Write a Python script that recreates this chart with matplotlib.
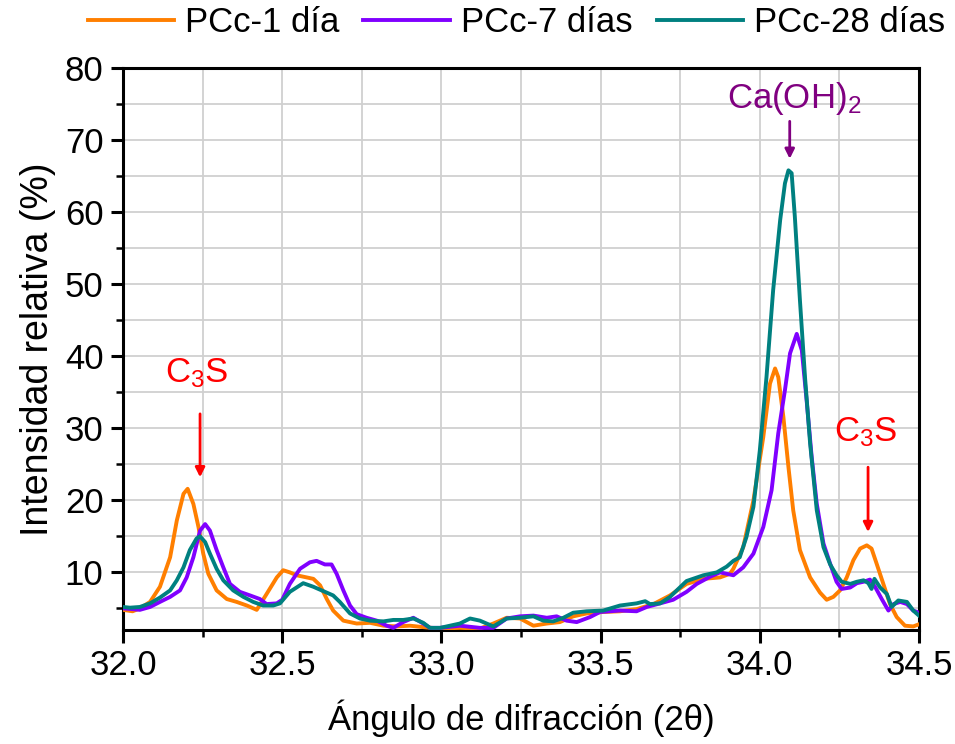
""" XRD detail of the PCc paste at 1, 7 and 28 days,
    2-theta window 32.0 - 34.5 with C3S and Ca(OH)2 peaks marked.
"""

###########
# Imports #
###########
import numpy as np
import matplotlib
matplotlib.use('Agg')
import matplotlib.pyplot as plt
from matplotlib.ticker import MultipleLocator, FormatStrFormatter


########
# Data #
########
# PCc-1 dia
x_1d = [32.000, 32.030, 32.053, 32.085, 32.116, 32.148, 32.169, 32.190, 32.203,
        32.221, 32.237, 32.252, 32.268, 32.294, 32.326, 32.357, 32.389, 32.420,
        32.451, 32.483, 32.503, 32.524, 32.545, 32.577, 32.598, 32.619, 32.640,
        32.660, 32.692, 32.734, 32.776, 32.818, 32.860, 32.901, 32.943, 32.996,
        33.058, 33.121, 33.163, 33.205, 33.247, 33.289, 33.331, 33.372, 33.414,
        33.456, 33.508, 33.561, 33.613, 33.666, 33.718, 33.770, 33.823, 33.875,
        33.906, 33.917, 33.948, 33.980, 34.011, 34.032, 34.048, 34.058, 34.074,
        34.090, 34.105, 34.126, 34.158, 34.189, 34.210, 34.231, 34.252, 34.273,
        34.294, 34.315, 34.336, 34.351, 34.367, 34.388, 34.409, 34.430, 34.456,
        34.482, 34.500]
y_1d = [4.8, 4.6, 5.0, 5.9, 8.0, 12.1, 17.2, 20.9, 21.6,
        19.5, 16.3, 12.6, 9.8, 7.5, 6.3, 5.9, 5.4, 4.8,
        7.0, 9.3, 10.3, 10.0, 9.6, 9.3, 9.1, 8.2, 6.3,
        4.7, 3.3, 2.9, 3.0, 2.6, 2.5, 2.6, 2.4, 2.2,
        2.3, 2.2, 2.9, 3.7, 3.6, 2.6, 2.9, 3.1, 3.9,
        4.3, 4.5, 4.6, 4.9, 5.6, 6.8, 8.4, 9.1, 9.3,
        9.8, 10.5, 13.5, 20.0, 28.8, 36.2, 38.3, 37.1, 31.6,
        24.6, 18.6, 13.1, 9.3, 7.2, 6.2, 6.6, 7.5, 9.3,
        11.7, 13.3, 13.75, 13.3, 11.2, 8.4, 5.6, 3.8, 2.6,
        2.5, 2.8]

# PCc-7 dias
x_7d = [32.000, 32.030, 32.053, 32.085, 32.116, 32.148, 32.179, 32.200, 32.221,
        32.242, 32.258, 32.273, 32.294, 32.315, 32.336, 32.367, 32.399, 32.430,
        32.451, 32.483, 32.500, 32.524, 32.556, 32.587, 32.608, 32.634, 32.655,
        32.671, 32.692, 32.713, 32.734, 32.765, 32.797, 32.828, 32.849, 32.880,
        32.912, 32.943, 32.964, 32.996, 33.058, 33.121, 33.163, 33.205, 33.247,
        33.289, 33.331, 33.362, 33.393, 33.425, 33.467, 33.498, 33.561, 33.613,
        33.645, 33.687, 33.728, 33.770, 33.802, 33.844, 33.875, 33.896, 33.917,
        33.948, 33.980, 34.011, 34.037, 34.058, 34.079, 34.095, 34.116, 34.132,
        34.147, 34.163, 34.179, 34.200, 34.221, 34.241, 34.257, 34.284, 34.305,
        34.326, 34.346, 34.362, 34.383, 34.404, 34.420, 34.441, 34.462, 34.482,
        34.500]
y_7d = [5.0, 4.9, 4.8, 5.2, 5.9, 6.6, 7.5, 9.3, 12.1,
        15.8, 16.7, 15.8, 13.1, 10.7, 8.4, 7.3, 6.8, 6.3,
        5.6, 5.7, 6.2, 8.4, 10.5, 11.4, 11.6, 11.1, 11.1,
        9.8, 7.5, 5.4, 4.2, 3.7, 3.3, 2.6, 2.3, 3.1,
        3.7, 2.9, 2.3, 2.3, 2.6, 2.3, 2.3, 3.6, 3.9,
        4.0, 3.7, 3.9, 3.3, 3.1, 3.8, 4.5, 4.7, 4.6,
        5.2, 5.7, 6.2, 7.3, 8.4, 9.4, 10.0, 9.8, 9.6,
        10.7, 12.6, 16.3, 21.4, 29.3, 35.3, 40.4, 43.1, 40.8,
        33.9, 26.0, 19.5, 14.0, 11.2, 8.7, 7.7, 7.9, 8.5,
        8.7, 9.0, 8.0, 6.3, 4.7, 5.6, 5.9, 5.6, 4.7,
        4.4]

# PCc-28 dias
x_28d = [32.000, 32.022, 32.053, 32.085, 32.116, 32.148, 32.169, 32.190, 32.210,
         32.231, 32.242, 32.258, 32.273, 32.294, 32.315, 32.346, 32.378, 32.409,
         32.440, 32.472, 32.493, 32.524, 32.566, 32.598, 32.629, 32.660, 32.681,
         32.713, 32.744, 32.776, 32.818, 32.849, 32.880, 32.912, 32.943, 32.964,
         32.996, 33.058, 33.090, 33.121, 33.163, 33.205, 33.247, 33.289, 33.320,
         33.351, 33.383, 33.414, 33.456, 33.508, 33.561, 33.613, 33.640, 33.655,
         33.687, 33.718, 33.770, 33.823, 33.865, 33.896, 33.917, 33.937, 33.958,
         33.980, 34.000, 34.021, 34.042, 34.064, 34.079, 34.090, 34.100, 34.110,
         34.126, 34.142, 34.158, 34.179, 34.200, 34.221, 34.241, 34.257, 34.284,
         34.305, 34.326, 34.341, 34.351, 34.360, 34.378, 34.399, 34.414, 34.435,
         34.462, 34.482, 34.500]
y_28d = [5.2, 5.1, 5.2, 5.7, 6.5, 7.5, 8.9, 10.7, 13.1,
         14.7, 15.0, 14.2, 12.6, 10.5, 8.9, 7.5, 6.6, 5.9,
         5.4, 5.4, 5.7, 7.3, 8.5, 8.0, 7.4, 6.8, 5.9,
         4.3, 3.6, 3.3, 3.2, 3.4, 3.4, 3.6, 3.0, 2.3,
         2.3, 2.9, 3.6, 3.3, 2.5, 3.6, 3.7, 3.9, 3.3,
         3.2, 3.7, 4.4, 4.6, 4.7, 5.4, 5.7, 6.0, 5.6,
         5.7, 6.6, 8.8, 9.6, 10.0, 10.8, 11.6, 12.1, 14.9,
         19.1, 26.9, 37.1, 49.2, 58.9, 64.0, 65.8, 65.4, 59.4,
         47.8, 37.1, 27.9, 18.6, 13.5, 11.1, 9.6, 8.7, 8.4,
         8.7, 8.9, 8.5, 7.7, 9.1, 7.9, 7.0, 5.2, 6.1,
         5.9, 4.7, 4.0]

labels = ['PCc-1 día', 'PCc-7 días', 'PCc-28 días']
colors = ['#FF7F00', '#8000FF', '#008080']

# Peak markers: (label, x, text x, arrow top, arrow tip, text y, colour)
peaks = [
    ('C$_3$S', 32.242, 32.232, 32.0, 23.2, 37.6, '#FF0000'),
    ('Ca(OH)$_2$', 34.094, 34.107, 72.6, 67.4, 75.8, '#800080'),
    ('C$_3$S', 34.340, 34.332, 24.6, 15.6, 29.4, '#FF0000'),
]


#########
# Style #
#########
plt.rcParams['font.family'] = ['Liberation Sans', 'DejaVu Sans']
plt.rcParams['mathtext.default'] = 'regular'
plt.rc('font', size=25)
plt.rc('axes', linewidth=2.2)
plt.rc('xtick', labelsize=25)
plt.rc('ytick', labelsize=25)


############
# Plotting #
############
fig = plt.figure(figsize=(9.55, 7.44), dpi=100)
ax = fig.add_axes([0.1288, 0.1532, 0.8335, 0.7554])

for xs, ys, lab, col in zip([x_1d, x_7d, x_28d], [y_1d, y_7d, y_28d],
                            labels, colors):
    ax.plot(xs, ys, color=col, lw=2.8, label=lab, zorder=3)

# Peak labels and arrows
for txt, xp, xt, y0, y1, yt, col in peaks:
    ax.annotate('', xy=(xp, y1), xytext=(xp, y0),
                arrowprops=dict(arrowstyle='-|>', color=col, lw=2,
                                mutation_scale=14, shrinkA=0, shrinkB=0),
                zorder=4)
    ax.text(xt, yt, txt, color=col, fontsize=25,
            ha='center', va='center', zorder=4)

ax.set(xlim=(32.0, 34.5), ylim=(2, 80))
ax.xaxis.set_major_locator(MultipleLocator(0.5))
ax.xaxis.set_minor_locator(MultipleLocator(0.25))
ax.xaxis.set_major_formatter(FormatStrFormatter('%.1f'))
ax.yaxis.set_major_locator(MultipleLocator(10))
ax.yaxis.set_minor_locator(MultipleLocator(5))

ax.grid(which='both', color='#D0D0D0', lw=1.3, zorder=0)
ax.set_axisbelow(True)
ax.tick_params(which='major', direction='out', length=9, width=2.2, pad=5)
ax.tick_params(which='minor', direction='out', length=5, width=1.8)

ax.set_xlabel('Ángulo de difracción (2θ)', fontsize=25, labelpad=12)
ax.set_ylabel('Intensidad relativa (%)', fontsize=27, labelpad=6)

ax.legend(loc='center', bbox_to_anchor=(0.494, 1.081), ncol=3,
          frameon=False, fontsize=25, handlelength=2.5, handletextpad=0.3,
          columnspacing=0.7, borderaxespad=0)

plt.savefig('out.png', dpi=100)
